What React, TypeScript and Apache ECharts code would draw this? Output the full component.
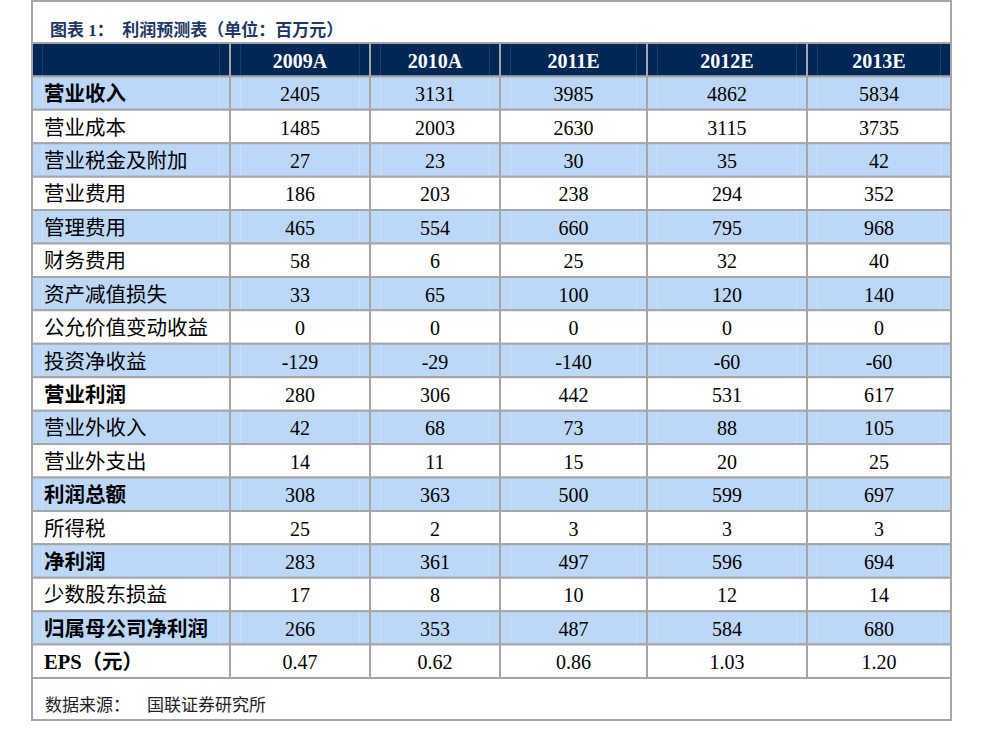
import React, { useEffect, useRef } from "react";
import * as echarts from "echarts";

// ---- data ----
const titleText = "图表 1：  利润预测表（单位：百万元）";
const sourceText = "数据来源：    国联证券研究所";
const years = ["2009A", "2010A", "2011E", "2012E", "2013E"];
const rowLabels = [
  "营业收入", "营业成本", "营业税金及附加", "营业费用", "管理费用", "财务费用",
  "资产减值损失", "公允价值变动收益", "投资净收益", "营业利润", "营业外收入",
  "营业外支出", "利润总额", "所得税", "净利润", "少数股东损益", "归属母公司净利润", "EPS（元）",
];
const boldRows = ["营业收入", "营业利润", "利润总额", "净利润", "归属母公司净利润", "EPS（元）"];
const v2009A = [2405, 1485, 27, 186, 465, 58, 33, 0, -129, 280, 42, 14, 308, 25, 283, 17, 266, 0.47];
const v2010A = [3131, 2003, 23, 203, 554, 6, 65, 0, -29, 306, 68, 11, 363, 2, 361, 8, 353, 0.62];
const v2011E = [3985, 2630, 30, 238, 660, 25, 100, 0, -140, 442, 73, 15, 500, 3, 497, 10, 487, 0.86];
const v2012E = [4862, 3115, 35, 294, 795, 32, 120, 0, -60, 531, 88, 20, 599, 3, 596, 12, 584, 1.03];
const v2013E = [5834, 3735, 42, 352, 968, 40, 140, 0, -60, 617, 105, 25, 697, 3, 694, 14, 680, 1.2];
const yearValues = [v2009A, v2010A, v2011E, v2012E, v2013E];

// ---- layout (table units along x) ----
const COL_EDGES = [0, 198, 338, 468, 615, 775, 919];
const NAVY = "#002856";
const BLUE = "#bdd7f8";
const GRID_LINE = "#a6a6a6";
const FONT = "'Liberation Serif', 'Times New Roman', 'Noto Sans CJK SC', serif";

type Cell = { c: number; r: number; text: string; kind: "header" | "blue" | "white"; bold: boolean };

function buildCells(): Cell[] {
  const cells: Cell[] = [];
  cells.push({ c: 0, r: 0, text: "", kind: "header", bold: true });
  years.forEach((y, i) => cells.push({ c: i + 1, r: 0, text: y, kind: "header", bold: true }));
  rowLabels.forEach((lab, ri) => {
    const kind = ri % 2 === 0 ? "blue" : "white";
    const isEps = lab.startsWith("EPS");
    cells.push({ c: 0, r: ri + 1, text: lab, kind, bold: boldRows.includes(lab) });
    yearValues.forEach((arr, ci) => {
      const v = arr[ri];
      cells.push({ c: ci + 1, r: ri + 1, text: isEps ? v.toFixed(2) : String(v), kind, bold: false });
    });
  });
  return cells;
}

export default function App() {
  const ref = useRef<HTMLDivElement>(null);
  useEffect(() => {
    if (!ref.current) return;
    const chart = echarts.init(ref.current, undefined, { renderer: "svg" });
    const cells = buildCells();
    const rowKeys = ["header", ...rowLabels];
    chart.setOption({
      animation: false,
      backgroundColor: "#ffffff",
      title: {
        text: titleText,
        left: 45,
        top: 17,
        textStyle: { fontFamily: FONT, fontSize: 17, fontWeight: "bold", color: "#1f3864" },
      },
      grid: { left: 32, right: 31, top: 43, bottom: 56 },
      xAxis: { type: "value", min: 0, max: COL_EDGES[COL_EDGES.length - 1], show: false },
      yAxis: { type: "category", data: rowKeys, inverse: true, show: false },
      graphic: [
        {
          type: "rect",
          shape: { x: 32, y: 1, width: 919, height: 719 },
          style: { fill: "none", stroke: GRID_LINE, lineWidth: 2 },
          z: 100,
        },
        {
          type: "text",
          left: 45,
          top: 697,
          style: { text: sourceText, fontFamily: FONT, fontSize: 17, fill: "#222" },
        },
      ],
      series: [
        {
          type: "custom",
          coordinateSystem: "cartesian2d",
          data: cells.map((cl) => [cl.c, cl.r]),
          renderItem: (params: any, api: any) => {
            const cell = cells[params.dataIndex];
            const c = api.value(0);
            const r = api.value(1);
            const p0 = api.coord([COL_EDGES[c], r]);
            const p1 = api.coord([COL_EDGES[c + 1], r]);
            const h = api.size([0, 1])[1];
            const x0 = p0[0];
            const x1 = p1[0];
            const y0 = p0[1] - h / 2;
            const fill = cell.kind === "header" ? NAVY : cell.kind === "blue" ? BLUE : "#ffffff";
            const innerColor = cell.kind === "header" ? "#1b3d68" : cell.kind === "blue" ? "#cde1fa" : "#ffffff";
            const children: any[] = [
              { type: "rect", shape: { x: x0, y: y0, width: x1 - x0, height: h }, style: { fill } },
            ];
            if (cell.kind !== "white") {
              children.push(
                { type: "line", shape: { x1: x0 + 10.5, y1: y0 + 1, x2: x0 + 10.5, y2: y0 + h - 1 }, style: { stroke: innerColor, lineWidth: 1 } },
                { type: "line", shape: { x1: x1 - 10.5, y1: y0 + 1, x2: x1 - 10.5, y2: y0 + h - 1 }, style: { stroke: innerColor, lineWidth: 1 } }
              );
            }
            children.push({
              type: "rect",
              shape: { x: x0, y: y0, width: x1 - x0, height: h },
              style: { fill: "none", stroke: GRID_LINE, lineWidth: 2 },
            });
            if (cell.text) {
              const isLabel = c === 0;
              children.push({
                type: "text",
                style: {
                  text: cell.text,
                  x: isLabel ? x0 + 12 : (x0 + x1) / 2,
                  y: p0[1] + 1,
                  align: isLabel ? "left" : "center",
                  verticalAlign: "middle",
                  fontFamily: FONT,
                  fontSize: isLabel ? 20.5 : 20,
                  fontWeight: cell.bold ? "bold" : "normal",
                  fill: cell.kind === "header" ? "#ffffff" : "#000000",
                },
              });
            }
            return { type: "group", children };
          },
        },
      ],
    });
    return () => chart.dispose();
  }, []);
  return (
    <div
      ref={ref}
      style={{ position: "fixed", left: 0, top: 0, width: 982, height: 734, background: "#fff" }}
    />
  );
}
